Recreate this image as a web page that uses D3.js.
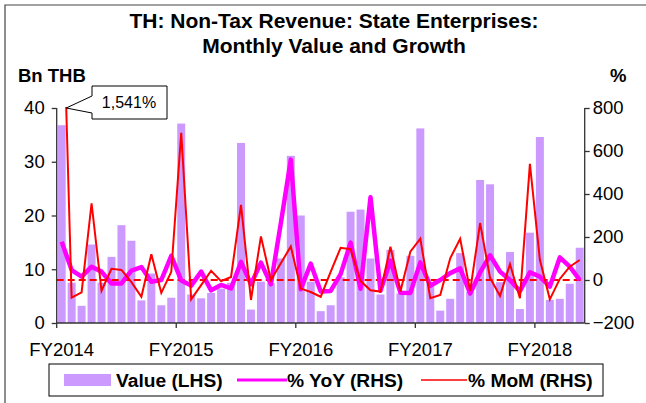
<!DOCTYPE html>
<html><head><meta charset="utf-8">
<script src="https://cdn.jsdelivr.net/npm/d3@7"></script>
<style>body{margin:0;background:#fff}svg{display:block;font-family:"Liberation Sans",Arial,sans-serif}</style>
</head><body>
<svg id="c" width="646" height="403"></svg>
<script>
const categories = ["Oct-13","Nov-13","Dec-13","Jan-14","Feb-14","Mar-14","Apr-14","May-14","Jun-14","Jul-14","Aug-14","Sep-14",
"Oct-14","Nov-14","Dec-14","Jan-15","Feb-15","Mar-15","Apr-15","May-15","Jun-15","Jul-15","Aug-15","Sep-15",
"Oct-15","Nov-15","Dec-15","Jan-16","Feb-16","Mar-16","Apr-16","May-16","Jun-16","Jul-16","Aug-16","Sep-16",
"Oct-16","Nov-16","Dec-16","Jan-17","Feb-17","Mar-17","Apr-17","May-17","Jun-17","Jul-17","Aug-17","Sep-17",
"Oct-17","Nov-17","Dec-17","Jan-18","Feb-18"];
const valueLHS = [36.8,7.5,3.2,14.6,7.5,12.3,18.2,15.3,4.2,9.2,3.3,4.7,
37.1,5.3,4.6,5.6,6.4,7.5,33.5,2.5,7.7,7.4,12.0,31.1,
20.0,7.7,2.2,3.3,8.5,20.7,21.1,12.0,5.3,13.6,5.5,12.5,
36.2,7.4,2.3,4.5,13.0,5.8,26.6,25.8,7.6,13.2,2.6,16.8,
34.6,4.3,4.5,7.3,14.0];
const yoyRHS = [178,46,16,62,39,-16,-16,44,60,-8,0,112,
-2,-26,39,-48,-23,-39,84,-20,81,-20,265,560,
-43,76,-54,-51,27,174,-41,385,-50,90,-59,-60,
82,-27,0,32,54,-63,35,115,39,0,-52,36,
16,-31,105,62,0];
const momRHS = [1541,-82,-58,357,-50,52,47,-10,-78,120,-60,38,
685,-90,-24,43,-5,14,349,-93,203,0,78,156,
-40,-56,-78,38,150,143,-5,-48,-54,155,-54,132,
192,-85,-70,101,192,-52,265,10,-74,74,-85,540,
94,-90,5,62,93];
const fyTickCats = ["Oct-13","Oct-14","Oct-15","Oct-16","Oct-17"];
const fyTickLabels = ["FY2014","FY2015","FY2016","FY2017","FY2018"];
const leftTicks = [0,10,20,30,40];
const rightTicks = [-200,0,200,400,600,800];
const calloutText = "1,541%";

const svg = d3.select("#c");
const L = 56.7, R = 584.7, T = 108, B = 323;
const FS = 18.5, LFS = 19.2;
const x = d3.scaleBand().domain(categories).range([L, R]).paddingInner(0.2).paddingOuter(0.1);
const xc = c => x(c) + x.bandwidth()/2;
const yL = d3.scaleLinear().domain([0,40]).range([B,T]);
const yR = d3.scaleLinear().domain([-200,800]).range([B,T]);

svg.append("rect").attr("width",646).attr("height",403).attr("fill","#fff");
svg.append("path").attr("d","M5,403 L5,5 L646,5").attr("fill","none").attr("stroke","#444").attr("stroke-width",1.2);

svg.append("text").attr("x",334).attr("y",28).attr("text-anchor","middle").attr("font-weight","bold").attr("font-size",21).text("TH: Non-Tax Revenue: State Enterprises:");
svg.append("text").attr("x",334).attr("y",53).attr("text-anchor","middle").attr("font-weight","bold").attr("font-size",21).text("Monthly Value and Growth");
svg.append("text").attr("x",18).attr("y",82).attr("font-weight","bold").attr("font-size",FS).text("Bn THB");
svg.append("text").attr("x",610).attr("y",82).attr("font-weight","bold").attr("font-size",FS).text("%");

svg.append("g").selectAll("rect").data(valueLHS).join("rect")
  .attr("x",(d,i)=>x(categories[i])).attr("width",x.bandwidth())
  .attr("y",d=>yL(d)).attr("height",d=>yL(0)-yL(d)).attr("fill","#CC99FF");

svg.append("clipPath").attr("id","pc").append("rect").attr("x",L).attr("y",T-1).attr("width",R-L).attr("height",B-T+1);

svg.append("line").attr("x1",L).attr("x2",R).attr("y1",yR(0)).attr("y2",yR(0))
  .attr("stroke","#FF0000").attr("stroke-width",2).attr("stroke-dasharray","7,4");

const line = d3.line().x((d,i)=>xc(categories[i])).y(d=>yR(d));
svg.append("path").datum(yoyRHS).attr("d",line).attr("clip-path","url(#pc)")
  .attr("fill","none").attr("stroke","#FF00FF").attr("stroke-width",4.5).attr("stroke-linejoin","round");
svg.append("path").datum(momRHS).attr("d",line).attr("clip-path","url(#pc)")
  .attr("fill","none").attr("stroke","#FF0000").attr("stroke-width",2).attr("stroke-linejoin","miter");

const gl = svg.append("g").attr("transform",`translate(${L},0)`)
  .call(d3.axisLeft(yL).tickValues(leftTicks).tickSize(5).tickPadding(7));
const gr = svg.append("g").attr("transform",`translate(${R},0)`)
  .call(d3.axisRight(yR).tickValues(rightTicks).tickSize(5).tickPadding(3));
const gx = svg.append("g").attr("transform",`translate(0,${B})`)
  .call(d3.axisBottom(x).tickValues(fyTickCats).tickFormat((d,i)=>fyTickLabels[i]).tickSize(5).tickPadding(15));
gx.selectAll(".tick").attr("transform",d=>`translate(${x(d)-x.step()*x.paddingInner()/2},0)`);
gx.selectAll(".tick text").attr("x", x.step()/2);
[gl,gr,gx].forEach(g=>{
  g.selectAll("path.domain").attr("stroke","#333").attr("stroke-width",1.3);
  g.selectAll(".tick line").attr("stroke","#333").attr("stroke-width",1.3);
  g.selectAll("text").attr("font-size",FS).attr("fill","#000").attr("font-family","Liberation Sans, Arial, sans-serif");
});
gl.select("path.domain").attr("d",`M0,${B}V${T}`);
gr.select("path.domain").attr("d",`M0,${B}V${T}`);
gx.select("path.domain").attr("d",`M${L},0H${R}`);

const x0 = xc(categories[0]), x1 = xc(categories[1]);
const y0 = yR(momRHS[0]), y1 = yR(momRHS[1]);
const tipX = x0 + (T - y0)/(y1 - y0)*(x1 - x0);
svg.append("path").attr("d",`M92,86 L167,86 L167,119 L92,119 L92,113 L${tipX},${T} L92,96 Z`)
  .attr("fill","#fff").attr("stroke","#000").attr("stroke-width",1);
svg.append("text").attr("x",129).attr("y",108).attr("text-anchor","middle").attr("font-size",16).text(calloutText);

const lg = svg.append("g");
lg.append("rect").attr("x",49).attr("y",364).attr("width",554).attr("height",32).attr("fill","#fff").attr("stroke","#000").attr("stroke-width",1);
lg.append("rect").attr("x",64).attr("y",374).attr("width",47).attr("height",12).attr("fill","#CC99FF");
lg.append("text").attr("x",116).attr("y",387).attr("font-weight","bold").attr("font-size",LFS).text("Value (LHS)");
lg.append("line").attr("x1",237).attr("x2",287).attr("y1",380).attr("y2",380).attr("stroke","#FF00FF").attr("stroke-width",3);
lg.append("text").attr("x",287).attr("y",387).attr("font-weight","bold").attr("font-size",LFS).text("% YoY (RHS)");
lg.append("line").attr("x1",421).attr("x2",467).attr("y1",380).attr("y2",380).attr("stroke","#FF0000").attr("stroke-width",1.5);
lg.append("text").attr("x",468).attr("y",387).attr("font-weight","bold").attr("font-size",LFS).text("% MoM (RHS)");
</script>
</body></html>
